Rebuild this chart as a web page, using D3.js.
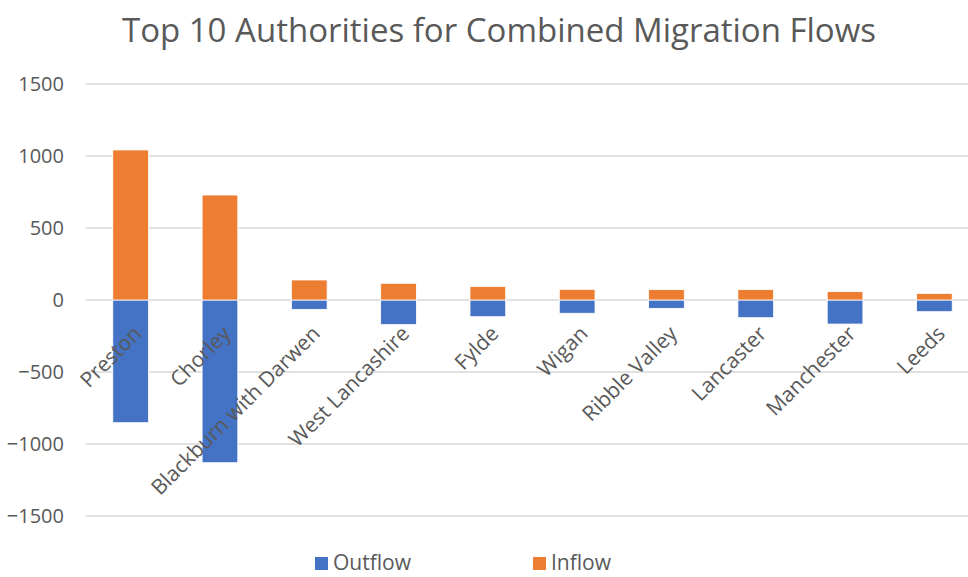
<!DOCTYPE html>
<html>
<head>
<meta charset="utf-8">
<script src="https://cdn.jsdelivr.net/npm/d3@7"></script>
<style>
  html, body { margin: 0; padding: 0; background: #fff; }
  svg { display: block; }
  text { font-family: "Open Sans", "Noto Sans", sans-serif; fill: #595959; }
</style>
</head>
<body>
<svg id="chart" width="968" height="577"></svg>
<script>
// Local authorities, ordered by combined migration flow
const authorities = ["Preston", "Chorley", "Blackburn with Darwen", "West Lancashire",
  "Fylde", "Wigan", "Ribble Valley", "Lancaster", "Manchester", "Leeds"];
// Outflows are shown below zero, inflows above
const outflow = [-852, -1130, -65, -171, -116, -92, -58, -123, -167, -81];
const inflow = [1042, 729, 139, 116, 93, 74, 72, 72, 58, 46];
const yTicks = [-1500, -1000, -500, 0, 500, 1000, 1500];
const seriesNames = ["Outflow", "Inflow"];
const seriesColors = ["#4472C4", "#ED7D31"];

const svg = d3.select("#chart");
const W = 968, H = 577;

const x = d3.scaleBand().domain(authorities).range([86, 979]).paddingInner(0.6).paddingOuter(0.3);
const y = d3.scaleLinear().domain([-1500, 1500]).range([516, 84]);

// Title
svg.append("text")
  .attr("x", 499).attr("y", 42)
  .attr("text-anchor", "middle")
  .style("font-size", "33px")
  .text("Top 10 Authorities for Combined Migration Flows");

// Horizontal gridlines
svg.append("g").selectAll("line").data(yTicks).join("line")
  .attr("x1", 86).attr("x2", W)
  .attr("y1", d => y(d)).attr("y2", d => y(d))
  .attr("stroke", "#d9d9d9").attr("stroke-width", 1.5);

// Value axis labels
const yAxis = d3.axisLeft(y).tickValues(yTicks).tickSize(0).tickPadding(0).tickFormat(d3.format("d"));
const gy = svg.append("g").attr("transform", "translate(64,0)").call(yAxis);
gy.select(".domain").remove();
gy.selectAll("text").style("font-size", "20px").attr("fill", "#595959");

// Stacked bars: one series below zero, one above
const series = [outflow, inflow];
series.forEach((vals, si) => {
  svg.append("g").selectAll("rect").data(vals).join("rect")
    .attr("x", (d, i) => x(authorities[i]))
    .attr("width", x.bandwidth())
    .attr("y", d => y(Math.max(0, d)))
    .attr("height", d => Math.abs(y(d) - y(0)))
    .attr("fill", seriesColors[si])
    .attr("stroke", "#fff").attr("stroke-width", 0.8);
});

// Rotated category labels
svg.append("g").selectAll("text").data(authorities).join("text")
  .attr("transform", d => `translate(${x(d) + x.bandwidth() / 2 + 12},${y(0) + 35}) rotate(-45)`)
  .attr("text-anchor", "end")
  .style("font-size", "21px")
  .text(d => d);

// Legend
const legend = svg.append("g");
const legendX = [315, 533];
seriesNames.forEach((name, i) => {
  legend.append("rect")
    .attr("x", legendX[i]).attr("y", 557).attr("width", 13).attr("height", 13)
    .attr("fill", seriesColors[i]);
  legend.append("text")
    .attr("x", legendX[i] + 18).attr("y", 570)
    .style("font-size", "21px")
    .text(name);
});
</script>
</body>
</html>
